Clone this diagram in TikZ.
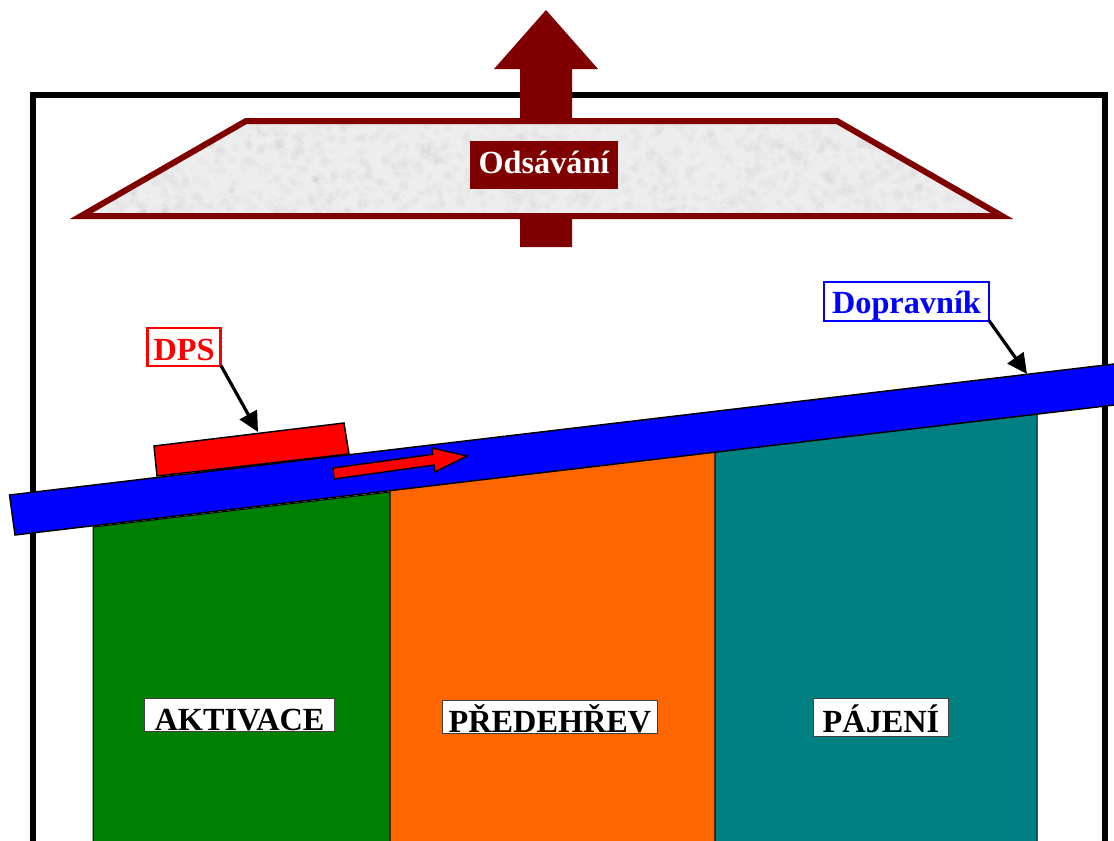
\documentclass[tikz,border=0pt]{standalone}
\usepackage{fontspec}
\setmainfont{Liberation Serif}
\usetikzlibrary{arrows.meta}
\definecolor{maroonx}{HTML}{800000}
\definecolor{greenx}{HTML}{008000}
\definecolor{orangex}{HTML}{FF6600}
\definecolor{tealx}{HTML}{008080}
\definecolor{bluex}{HTML}{0000FF}
\definecolor{redx}{HTML}{FF0000}
\tikzset{
  x=0.75pt,y=-0.75pt,
  zone/.style={draw=black,line width=0.75pt},
  thin edge/.style={draw=black,line width=1.1pt,line join=miter},
  lbl/.style={font=\fontsize{24.2}{28}\selectfont\bfseries,inner sep=0pt,anchor=center,text depth=0pt},
  zonelabel/.style={lbl,draw=black!75,line width=0.75pt,fill=white,text=black},
  callout/.style={draw=black,line width=2.4pt,-{Triangle[length=15pt,width=14.5pt]},shorten <=-1.5pt},
}
\begin{document}
\begin{tikzpicture}
\useasboundingbox (0,0) rectangle (1114,840);
\clip (0,0) rectangle (1114,840);
% frame
\draw[black,line width=4.5pt,miter limit=10] (33,850) -- (33,95) -- (1105,95) -- (1105,850);
% zones
\path[zone,fill=greenx] (93,527) -- (390,492) -- (390,850) -- (93,850) -- cycle;
\path[zone,fill=orangex] (390,490) -- (715,452) -- (715,850) -- (390,850) -- cycle;
\path[zone,fill=tealx] (715,452) -- (1037,414) -- (1037,850) -- (715,850) -- cycle;
% exhaust arrow
\fill[maroonx] (546,10) -- (598,69) -- (572,69) -- (572,247) -- (520,247) -- (520,69) -- (494,69) -- cycle;
% hood
\fill[black!7] (246,121) -- (837,121) -- (1002,216) -- (81,216) -- cycle;
\begin{scope}
  \clip (246,121) -- (837,121) -- (1002,216) -- (81,216) -- cycle;
  \pgfmathsetseed{4711}
  \foreach \i in {1,...,1800}{
    \pgfmathsetmacro{\px}{75+rnd*935}
    \pgfmathsetmacro{\py}{120+rnd*98}
    \pgfmathsetmacro{\pr}{1+rnd*4.5}
    \fill[black,opacity=0.016] (\px,\py) circle[radius=\pr];
  }
\end{scope}
\draw[maroonx,line width=4.5pt,miter limit=10] (246,121) -- (837,121) -- (1002,216) -- (81,216) -- cycle;
\node[lbl,fill=maroonx,text=white,minimum width=111pt,minimum height=36pt,text height=12pt] (odsavani) at (544,165) {Odsávání};
% board
\draw[thin edge,fill=redx] (154,446) -- (344,423) -- (349,454) -- (157,476) -- cycle;
% conveyor
\draw[thin edge,fill=bluex] (9.5,495) -- (1120,363.3) -- (1125,403.7) -- (15,535) -- cycle;
% direction arrow
\draw[thin edge,fill=redx] (333,468) -- (432.7,454.3) -- (432,448) -- (467,456) -- (435,472) -- (434,465) -- (334,479) -- cycle;
% callouts
\node[lbl,draw=redx,line width=1.9pt,fill=white,text=redx,minimum width=55pt,minimum height=28.5pt,text height=19.5pt] (dps) at (184,347) {DPS};
\node[lbl,draw=bluex,line width=1.5pt,fill=white,text=bluex,minimum width=124pt,minimum height=29.5pt,text height=17.7pt] (dopravnik) at (906.5,301.5) {Dopravník};
\coordinate (dpstarget) at (258,432);
\coordinate (beltarget) at (1027,374);
\draw[callout] (dps.south east) -- (dpstarget);
\draw[callout] (dopravnik.south east) -- (beltarget);
% zone labels
\node[zonelabel,minimum width=143pt,minimum height=25pt,text height=22.5pt] (aktivace) at (239.5,715) {AKTIVACE};
\node[zonelabel,minimum width=161pt,minimum height=25pt,text height=23pt] (predehrev) at (550,717) {PŘEDEHŘEV};
\node[zonelabel,minimum width=101pt,minimum height=28pt,text height=21.8pt] (pajeni) at (881,717.5) {PÁJENÍ};
\end{tikzpicture}
\end{document}
